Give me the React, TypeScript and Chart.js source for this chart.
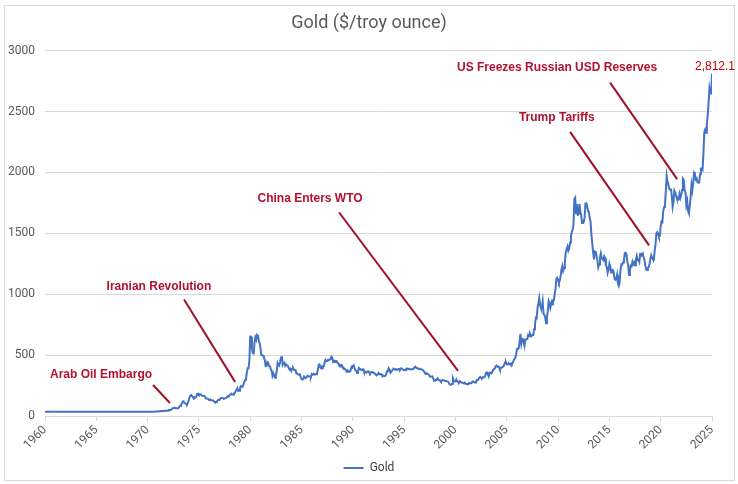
import React, { useEffect, useRef } from "react";
import { Chart, registerables } from "chart.js";

Chart.register(...registerables);

const START_YEAR = 1960;
const END_YEAR = 2025;
const SERIES_NAME = "Gold";
const TITLE = "Gold ($/troy ounce)";
const LAST_LABEL = "2,812.1";

// Monthly average price, Jan 1960 .. Jan 2025
const goldPrices: number[] = [
  // 1960
  35.3, 35.2, 35.1, 35.1, 35.1, 35.1, 35.2, 35.3, 35.6, 36.5, 35.9, 35.5,
  // 1961
  35.6, 35.3, 35.1, 35.1, 35.1, 35.1, 35.1, 35.1, 35.1, 35.1, 35.1, 35.1,
  // 1962
  35.1, 35.1, 35.1, 35.1, 35.1, 35.1, 35.1, 35.1, 35.1, 35.1, 35.1, 35.1,
  // 1963
  35.1, 35.1, 35.1, 35.1, 35.1, 35.1, 35.1, 35.1, 35.1, 35.1, 35.1, 35.1,
  // 1964
  35.1, 35.1, 35.1, 35.1, 35.1, 35.1, 35.1, 35.1, 35.1, 35.1, 35.1, 35.1,
  // 1965
  35.1, 35.1, 35.1, 35.1, 35.1, 35.1, 35.1, 35.1, 35.1, 35.1, 35.1, 35.1,
  // 1966
  35.1, 35.1, 35.1, 35.1, 35.1, 35.1, 35.1, 35.1, 35.1, 35.1, 35.1, 35.1,
  // 1967
  35.1, 35.1, 35.1, 35.1, 35.1, 35.1, 35.1, 35.1, 35.1, 35.1, 35.1, 35.2,
  // 1968
  35.2, 35.2, 35.2, 35.2, 35.2, 35.2, 35.2, 35.2, 35.2, 35.2, 35.2, 35.2,
  // 1969
  35.2, 35.2, 35.2, 35.2, 35.2, 35.2, 35.2, 35.2, 35.2, 35.2, 35.1, 35.0,
  // 1970
  35.0, 35.0, 35.1, 35.6, 35.9, 35.4, 35.3, 35.4, 36.2, 37.5, 37.4, 37.4,
  // 1971
  37.9, 38.7, 38.9, 39.0, 40.5, 40.1, 41.0, 42.7, 42.0, 42.5, 42.9, 43.5,
  // 1972
  45.7, 48.3, 48.3, 49.0, 54.6, 62.1, 65.7, 67.0, 65.5, 64.9, 62.9, 63.9,
  // 1973
  65.1, 74.2, 84.4, 90.5, 102.0, 120.1, 120.2, 106.8, 103.0, 100.1, 94.8, 106.7,
  // 1974
  129.2, 150.2, 168.4, 172.2, 163.3, 154.1, 143.0, 154.6, 151.8, 158.8, 181.7, 183.9,
  // 1975
  175.8, 180.0, 177.8, 170.0, 167.2, 164.2, 165.2, 163.1, 144.1, 142.8, 142.8, 139.3,
  // 1976
  131.0, 131.5, 132.6, 128.2, 126.9, 125.7, 117.7, 109.3, 114.0, 116.1, 130.2, 133.6,
  // 1977
  132.3, 142.2, 148.9, 149.3, 146.6, 140.8, 143.3, 144.8, 149.1, 158.7, 162.1, 160.5,
  // 1978
  173.2, 178.2, 183.7, 175.3, 176.3, 183.7, 188.7, 206.4, 212.4, 227.3, 206.1, 207.8,
  // 1979
  227.3, 245.7, 242.1, 239.2, 257.3, 279.1, 294.7, 300.8, 355.1, 391.7, 391.9, 455.1,
  // 1980
  652.0, 651.3, 553.6, 517.4, 513.8, 600.7, 645.0, 626.5, 665.6, 658.2, 623.5, 596.0,
  // 1981
  557.4, 499.8, 498.8, 495.8, 479.7, 460.8, 409.3, 410.1, 443.2, 437.7, 413.1, 410.1,
  // 1982
  384.1, 374.2, 330.0, 350.5, 333.9, 314.9, 339.0, 364.2, 435.6, 422.0, 414.0, 444.3,
  // 1983
  481.1, 491.4, 419.7, 432.2, 438.1, 412.8, 422.8, 416.3, 412.0, 394.0, 381.8, 388.0,
  // 1984
  370.3, 386.0, 394.2, 381.3, 377.4, 377.8, 348.0, 348.0, 341.2, 340.0, 341.2, 319.8,
  // 1985
  303.5, 298.8, 304.3, 324.8, 316.0, 316.8, 317.4, 330.1, 323.4, 325.9, 325.3, 322.4,
  // 1986
  345.4, 339.3, 346.0, 340.4, 342.6, 342.6, 348.6, 376.3, 418.4, 423.3, 398.0, 391.3,
  // 1987
  408.3, 401.1, 408.9, 438.4, 460.0, 449.7, 450.6, 461.0, 460.0, 465.4, 466.8, 486.6,
  // 1988
  477.2, 442.0, 444.2, 451.9, 451.2, 451.6, 437.0, 432.0, 413.1, 406.0, 419.5, 419.2,
  // 1989
  404.2, 388.0, 390.2, 384.2, 371.2, 367.6, 374.9, 365.3, 361.7, 366.9, 393.7, 409.2,
  // 1990
  410.1, 416.7, 393.1, 374.3, 369.1, 352.2, 362.5, 394.8, 389.3, 380.7, 381.8, 378.2,
  // 1991
  383.6, 364.0, 363.5, 358.4, 356.8, 366.7, 367.7, 356.2, 348.7, 358.7, 359.6, 361.1,
  // 1992
  354.4, 353.9, 344.5, 338.5, 337.2, 340.8, 352.8, 342.9, 345.4, 344.4, 335.0, 334.7,
  // 1993
  329.0, 329.3, 330.1, 342.2, 367.2, 371.9, 392.0, 379.0, 355.4, 364.2, 373.8, 383.3,
  // 1994
  386.9, 381.9, 384.1, 377.3, 381.4, 385.6, 385.5, 380.4, 391.6, 389.8, 384.4, 379.3,
  // 1995
  378.6, 376.5, 382.1, 391.0, 385.2, 387.6, 386.2, 383.7, 383.1, 383.1, 386.0, 387.4,
  // 1996
  399.5, 404.8, 396.2, 392.8, 391.9, 385.3, 383.5, 387.4, 383.1, 381.1, 377.9, 369.0,
  // 1997
  355.0, 346.6, 351.8, 344.4, 343.8, 340.8, 324.1, 324.0, 322.8, 324.9, 306.0, 288.7,
  // 1998
  289.1, 297.5, 295.9, 308.4, 299.1, 292.3, 292.9, 284.1, 289.0, 295.9, 294.1, 291.4,
  // 1999
  287.1, 287.3, 285.9, 282.6, 276.4, 261.3, 256.1, 256.7, 264.7, 310.7, 293.2, 283.1,
  // 2000
  284.3, 299.9, 286.4, 279.7, 275.1, 285.7, 281.6, 274.5, 273.7, 270.0, 266.0, 271.5,
  // 2001
  265.5, 261.9, 263.1, 260.5, 272.4, 270.2, 267.5, 272.4, 283.4, 283.1, 276.2, 275.9,
  // 2002
  281.7, 295.5, 294.0, 302.7, 314.5, 321.2, 313.3, 310.3, 319.2, 316.6, 319.2, 333.4,
  // 2003
  356.9, 358.0, 340.6, 328.2, 355.7, 356.4, 351.0, 359.8, 378.9, 378.9, 389.9, 407.6,
  // 2004
  414.0, 404.9, 406.7, 403.0, 383.8, 392.4, 398.1, 400.5, 405.3, 420.5, 439.4, 442.1,
  // 2005
  424.2, 423.4, 434.2, 428.9, 421.9, 430.7, 424.5, 437.9, 456.0, 469.9, 476.7, 509.8,
  // 2006
  549.9, 555.0, 557.1, 610.6, 675.4, 596.2, 633.7, 632.6, 598.2, 585.8, 627.8, 629.8,
  // 2007
  631.2, 664.8, 654.9, 679.4, 666.9, 655.5, 665.3, 665.4, 712.7, 754.6, 806.3, 803.2,
  // 2008
  889.6, 922.3, 968.4, 909.7, 888.7, 889.5, 939.8, 839.0, 829.9, 806.6, 760.9, 816.1,
  // 2009
  858.7, 943.2, 924.3, 890.2, 928.6, 945.7, 934.2, 949.4, 996.6, 1043.2, 1127.0, 1134.7,
  // 2010
  1117.9, 1095.4, 1113.3, 1148.7, 1205.4, 1232.9, 1192.9, 1215.8, 1270.9, 1342.0, 1369.9, 1390.6,
  // 2011
  1356.4, 1372.7, 1424.0, 1473.8, 1510.4, 1528.7, 1572.8, 1780.6, 1792.3, 1665.2, 1738.9, 1652.3,
  // 2012
  1656.1, 1742.6, 1673.8, 1649.7, 1585.5, 1596.7, 1593.9, 1630.3, 1744.8, 1746.6, 1721.6, 1684.8,
  // 2013
  1671.9, 1627.6, 1593.1, 1487.9, 1414.0, 1343.4, 1285.5, 1351.7, 1348.6, 1316.6, 1275.9, 1221.5,
  // 2014
  1244.3, 1299.6, 1336.1, 1299.0, 1287.5, 1279.1, 1310.6, 1295.1, 1236.6, 1222.5, 1175.3, 1200.6,
  // 2015
  1250.8, 1227.1, 1178.6, 1198.9, 1198.6, 1181.5, 1128.3, 1117.9, 1124.5, 1159.3, 1086.4, 1068.3,
  // 2016
  1097.9, 1199.5, 1245.1, 1242.3, 1260.9, 1276.4, 1336.7, 1340.2, 1326.6, 1266.6, 1238.4, 1157.4,
  // 2017
  1192.1, 1234.2, 1231.4, 1266.9, 1246.0, 1260.3, 1236.8, 1283.0, 1314.1, 1279.5, 1281.9, 1264.5,
  // 2018
  1331.3, 1330.7, 1324.7, 1334.8, 1303.5, 1281.6, 1238.0, 1201.7, 1198.4, 1215.4, 1220.7, 1250.4,
  // 2019
  1291.8, 1320.1, 1300.9, 1285.9, 1283.7, 1359.0, 1413.0, 1500.4, 1510.6, 1494.8, 1470.8, 1479.1,
  // 2020
  1560.7, 1597.1, 1591.9, 1683.2, 1715.9, 1732.2, 1846.5, 1968.6, 1921.9, 1900.3, 1866.3, 1858.4,
  // 2021
  1867.0, 1808.2, 1718.2, 1760.0, 1850.3, 1834.6, 1807.8, 1785.3, 1775.8, 1776.9, 1821.4, 1790.4,
  // 2022
  1816.9, 1856.3, 1948.0, 1936.9, 1848.5, 1836.6, 1732.7, 1764.6, 1681.0, 1664.5, 1725.1, 1797.6,
  // 2023
  1897.8, 1854.6, 1912.7, 1999.8, 1992.0, 1942.9, 1951.0, 1918.4, 1916.1, 1916.7, 1985.3, 2030.3,
  // 2024
  2034.0, 2024.1, 2158.2, 2331.2, 2351.4, 2326.2, 2398.5, 2470.0, 2571.1, 2690.7, 2650.5, 2648.0,
  // 2025
  2812.1,
];

// Event annotations: label text, label anchor (year, $), leader line start/end (year, $)
const eventNames: string[] = [
  "Arab Oil Embargo",
  "Iranian Revolution",
  "China Enters WTO",
  "Trump Tariffs",
  "US Freezes Russian USD Reserves",
];
const eventLabelAt: [number, number][] = [
  [1965.46, 338],
  [1971.1, 1063],
  [1985.83, 1788],
  [2009.88, 2448],
  [2009.9, 2860],
];
const eventLineFrom: [number, number][] = [
  [1970.53, 255],
  [1973.55, 956],
  [1988.65, 1673],
  [2011.17, 2333],
  [2015.07, 2737],
];
const eventLineTo: [number, number][] = [
  [1972.18, 107],
  [1978.52, 280],
  [2000.25, 371],
  [2018.87, 1401],
  [2021.6, 1945],
];

const TEXT_GREY = "#595959";
const GRID = "#d9d9d9";
const LINE_BLUE = "#4472C4";
const ANNOT_TEXT = "#B3102E";
const ANNOT_LINE = "#A10F28";

export default function App() {
  const canvasRef = useRef<HTMLCanvasElement | null>(null);

  useEffect(() => {
    document.body.style.margin = "0";
    const canvas = canvasRef.current;
    if (!canvas) return;

    const points = goldPrices.map((v, i) => ({ x: START_YEAR + i / 12, y: v }));

    const decorPlugin = {
      id: "decor",
      beforeDraw(chart: any) {
        const { ctx } = chart;
        ctx.save();
        ctx.fillStyle = "#ffffff";
        ctx.fillRect(0, 0, chart.width, chart.height);
        ctx.strokeStyle = GRID;
        ctx.lineWidth = 1;
        ctx.strokeRect(4.5, 5.5, 730, 475);
        ctx.restore();
      },
      afterDatasetsDraw(chart: any) {
        const { ctx } = chart;
        const xs = chart.scales.x;
        const ys = chart.scales.y;
        ctx.save();
        ctx.lineWidth = 2;
        ctx.strokeStyle = ANNOT_LINE;
        eventNames.forEach((name, i) => {
          const [x1, y1] = eventLineFrom[i];
          const [x2, y2] = eventLineTo[i];
          ctx.beginPath();
          ctx.moveTo(xs.getPixelForValue(x1), ys.getPixelForValue(y1));
          ctx.lineTo(xs.getPixelForValue(x2), ys.getPixelForValue(y2));
          ctx.stroke();
          const [lx, ly] = eventLabelAt[i];
          ctx.fillStyle = ANNOT_TEXT;
          ctx.font = "bold 12px 'Liberation Sans', Arial, sans-serif";
          ctx.textAlign = "center";
          ctx.textBaseline = "middle";
          ctx.fillText(name, xs.getPixelForValue(lx), ys.getPixelForValue(ly));
        });
        // last value label
        const last = points[points.length - 1];
        ctx.fillStyle = "#C00000";
        ctx.font = "12px 'Liberation Sans', Arial, sans-serif";
        ctx.textAlign = "center";
        ctx.textBaseline = "middle";
        ctx.fillText(LAST_LABEL, xs.getPixelForValue(last.x) + 3, ys.getPixelForValue(last.y) - 7);
        ctx.restore();
      },
    };

    const chart = new Chart(canvas, {
      type: "line",
      data: {
        datasets: [
          {
            label: SERIES_NAME,
            data: points,
            borderColor: LINE_BLUE,
            backgroundColor: LINE_BLUE,
            borderWidth: 2,
            pointRadius: 0,
            pointHoverRadius: 0,
            tension: 0,
            fill: false,
          },
        ],
      },
      options: {
        responsive: false,
        animation: false,
        events: [],
        layout: { padding: { left: 0, right: 0, top: 0, bottom: 0 } },
        plugins: {
          title: {
            display: true,
            text: TITLE,
            color: TEXT_GREY,
            font: { family: "Roboto, 'Open Sans', sans-serif", size: 18, weight: "normal" },
            padding: { top: 13, bottom: 16 },
          },
          legend: {
            display: true,
            position: "bottom",
            labels: {
              color: "#404040",
              font: { family: "Roboto, 'Open Sans', sans-serif", size: 12 },
              usePointStyle: true,
              pointStyle: "line",
              pointStyleWidth: 20,
              padding: 10,
            },
          },
          tooltip: { enabled: false },
        },
        scales: {
          x: {
            type: "linear",
            min: START_YEAR,
            max: END_YEAR,
            afterFit(scale: any) {
              scale.height = 36;
            },
            grid: {
              drawOnChartArea: false,
              drawTicks: true,
              tickLength: 5,
              color: GRID,
            },
            border: { display: true, color: GRID },
            ticks: {
              stepSize: 5,
              minRotation: 45,
              maxRotation: 45,
              color: TEXT_GREY,
              padding: 2,
              font: { family: "Roboto, 'Open Sans', sans-serif", size: 12 },
              callback: (v: any) => String(v),
            },
          },
          y: {
            min: 0,
            max: 3000,
            afterFit(scale: any) {
              scale.width = 45;
            },
            grid: { color: GRID, drawTicks: false },
            border: { display: false },
            ticks: {
              stepSize: 500,
              color: TEXT_GREY,
              padding: 10,
              font: { family: "Roboto, 'Open Sans', sans-serif", size: 12 },
              callback: (v: any) => String(v),
            },
          },
          yRight: {
            position: "right",
            min: 0,
            max: 3000,
            afterFit(scale: any) {
              scale.width = 26;
            },
            grid: { display: false, drawTicks: false },
            border: { display: false },
            ticks: { display: false },
          },
        },
      },
      plugins: [decorPlugin],
    });

    return () => chart.destroy();
  }, []);

  return (
    <div style={{ width: 738, height: 484 }}>
      <canvas ref={canvasRef} width={738} height={484} />
    </div>
  );
}
